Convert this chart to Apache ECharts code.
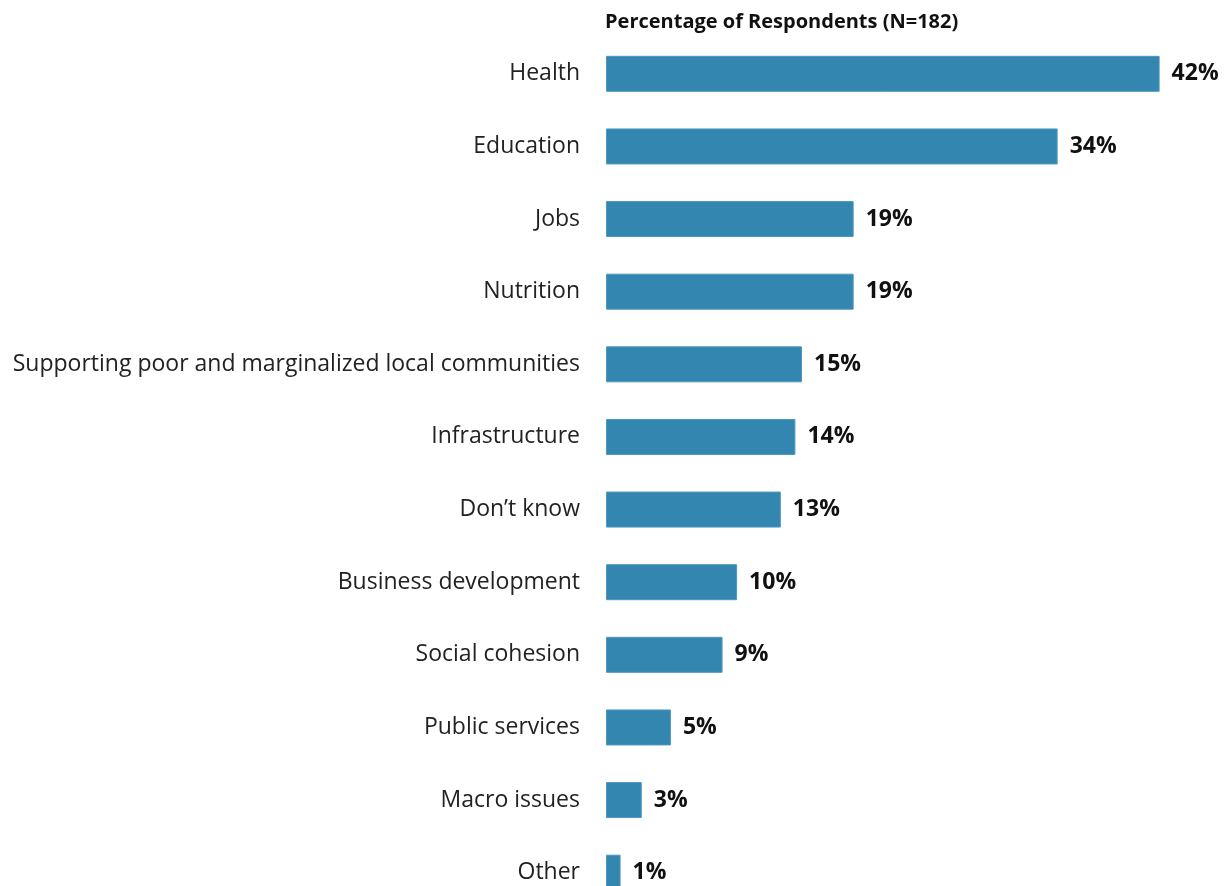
<!DOCTYPE html>
<html>
<head>
<meta charset="utf-8">
<script src="https://cdn.jsdelivr.net/npm/echarts@6/dist/echarts.min.js"></script>
<style>
html,body{margin:0;padding:0;background:#fff;}
#chart{width:1227px;height:886px;}
</style>
</head>
<body>
<div id="chart"></div>
<script>
var categories = ['Health','Education','Jobs','Nutrition','Supporting poor and marginalized local communities','Infrastructure','Don\u2019t know','Business development','Social cohesion','Public services','Macro issues','Other'];
var values = [41.8, 34.1, 18.7, 18.7, 14.8, 14.3, 13.2, 9.9, 8.8, 4.9, 2.7, 1.1];

var chart = echarts.init(document.getElementById('chart'));
var option = {
    animation: false,
    title: {
        text: 'Percentage of Respondents (N=182)',
        left: 600,
        top: 7,
        textStyle: {
            fontFamily: 'Open Sans',
            fontSize: 20,
            fontWeight: 'bold',
            color: '#111'
        }
    },
    grid: {
        left: 606,
        top: 37.5,
        width: 596,
        height: 871.5,
        outerBoundsMode: 'none',
        containLabel: false
    },
    xAxis: {
        type: 'value',
        min: 0,
        max: 45,
        show: false
    },
    yAxis: {
        type: 'category',
        inverse: true,
        data: categories,
        axisLine: {show: false},
        axisTick: {show: false},
        axisLabel: {
            margin: 26,
            fontFamily: 'Open Sans',
            fontSize: 23,
            color: '#222'
        }
    },
    series: [{
        type: 'bar',
        data: values,
        barWidth: 36,
        itemStyle: {
            color: '#3386b0',
            borderColor: '#4f97bd',
            borderWidth: 1
        },
        label: {
            show: true,
            position: 'right',
            distance: 12,
            fontFamily: 'Open Sans',
            fontSize: 23,
            fontWeight: 'bold',
            color: '#111',
            formatter: function (p) { return Math.round(p.value) + '%'; }
        }
    }]
};
chart.setOption(option);
</script>
</body>
</html>
